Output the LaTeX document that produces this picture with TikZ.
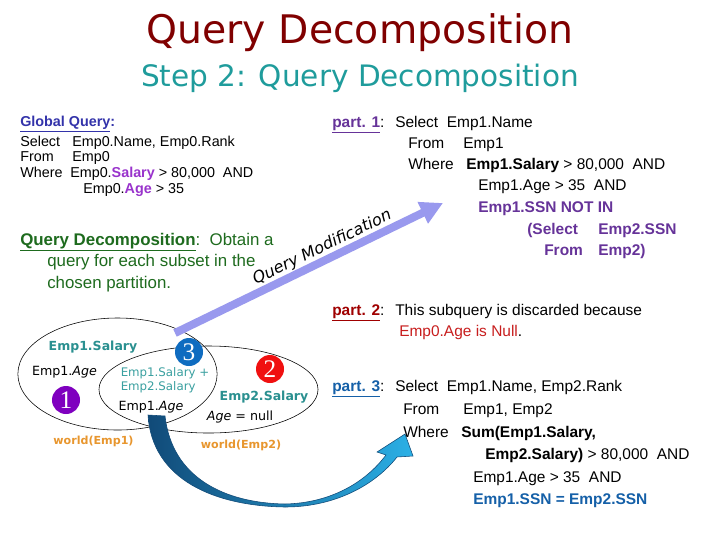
\documentclass[tikz,border=0pt]{standalone}
\usepackage{fontspec}
\setmainfont{Liberation Sans}
\newfontfamily\comic{DejaVu Sans}
\newfontfamily\numfont{Liberation Serif}
\usetikzlibrary{positioning,arrows.meta,shapes.geometric}

\definecolor{titlered}{HTML}{800000}
\definecolor{stepteal}{HTML}{1F9C9C}
\definecolor{gqblue}{HTML}{3333AA}
\definecolor{salpurple}{HTML}{9933CC}
\definecolor{p1purple}{HTML}{663399}
\definecolor{qdgreen}{HTML}{1E6B1E}
\definecolor{p2red}{HTML}{A00000}
\definecolor{nullred}{HTML}{C81E1E}
\definecolor{p3blue}{HTML}{1560A8}
\definecolor{ellteal}{HTML}{2A9090}
\definecolor{lightteal}{HTML}{3AA0A0}
\definecolor{worldorange}{HTML}{E8962E}
\definecolor{c1purple}{HTML}{7F00BF}
\definecolor{c2red}{HTML}{F01010}
\definecolor{c3blue}{HTML}{0F6CC0}
\definecolor{modlav}{HTML}{9999EE}
\definecolor{bowdark}{HTML}{114A78}
\definecolor{bowlight}{HTML}{2BB0E6}

\begin{document}
\begin{tikzpicture}[
    x=0.025cm, y=-0.025cm,
    gq/.style={anchor=base west, inner sep=0pt, font=\fontsize{10.2}{12}\selectfont},
    sql/.style={anchor=base west, inner sep=0pt, font=\fontsize{11}{13}\selectfont},
    note/.style={anchor=base west, inner sep=0pt, text=qdgreen, font=\fontsize{12}{14}\selectfont},
    world/.style={draw, ellipse, thin, inner sep=0pt},
    num/.style={circle, inner sep=0pt, minimum size=0.7cm, text=white,
                font=\numfont\fontsize{18}{18}\selectfont},
    vlab/.style={inner sep=0pt, font=\comic\fontsize{9}{10}\selectfont},
    wlab/.style={inner sep=0pt, text=worldorange, font=\comic\bfseries\fontsize{7.9}{9}\selectfont},
    modarrow/.style={-{Triangle[length=16pt, width=16pt]}, line width=5.7pt, color=modlav},
  ]
  \useasboundingbox (0,0) rectangle (720,540);
  \fill[white] (0,0) rectangle (720,540);

  % --- Title ---
  \node[text=titlered, font=\comic\fontsize{28}{30}\selectfont] (title) at (360,33) {Query Decomposition};
  \node[text=stepteal, font=\comic\fontsize{21}{24}\selectfont] (step) at (360,78) {Step 2: Query Decomposition};

  % --- Global query (left) ---
  \node[gq, text=gqblue, font=\bfseries\fontsize{10.2}{12}\selectfont] (gq0) at (20,126) {\underline{Global Query}:};
  \node[gq] (gq1)  at (20,146) {Select};
  \node[gq] (gq1b) at (72,146) {Emp0.Name, Emp0.Rank};
  \node[gq] (gq2)  at (20,161) {From};
  \node[gq] (gq2b) at (72,161) {Emp0};
  \node[gq] (gq3)  at (20,177) {Where};
  \node[gq] (gq3b) at (70,177) {Emp0.\textbf{\color{salpurple}Salary} > 80,000\ \ AND};
  \node[gq] (gq4)  at (83,193) {Emp0.\textbf{\color{salpurple}Age} > 35};

  % --- Decomposition note (green) ---
  \node[note] (qd1) at (20,245) {\textbf{\underline{Query Decomposition}}:\ \ Obtain a};
  \node[note] (qd2) at (47,266) {query for each subset in the};
  \node[note] (qd3) at (47,288) {chosen partition.};

  % --- part 1 ---
  \node[sql] (p1)   at (332,127) {\textcolor{p1purple}{\textbf{\underline{part. 1}}}:};
  \node[sql] (p1a)  at (395,127) {Select\ \ Emp1.Name};
  \node[sql] (p1b)  at (408,148) {From};
  \node[sql] (p1bb) at (463,148) {Emp1};
  \node[sql] (p1c)  at (408,169) {Where};
  \node[sql] (p1cc) at (466,169) {\textbf{Emp1.Salary} > 80,000\ \ AND};
  \node[sql] (p1d)  at (478,190) {Emp1.Age > 35\ \ AND};
  \node[sql, text=p1purple, font=\bfseries\fontsize{11}{13}\selectfont] (p1e)  at (478,212) {Emp1.SSN NOT IN};
  \node[sql, text=p1purple, font=\bfseries\fontsize{11}{13}\selectfont] (p1f)  at (527,234) {(Select};
  \node[sql, text=p1purple, font=\bfseries\fontsize{11}{13}\selectfont] (p1ff) at (598,234) {Emp2.SSN};
  \node[sql, text=p1purple, font=\bfseries\fontsize{11}{13}\selectfont] (p1g)  at (544,255) {From};
  \node[sql, text=p1purple, font=\bfseries\fontsize{11}{13}\selectfont] (p1gg) at (598,255) {Emp2)};

  % --- part 2 ---
  \node[sql] (p2)  at (332,315) {\textcolor{p2red}{\textbf{\underline{part. 2}}}:};
  \node[sql] (p2a) at (395,315) {This subquery is discarded because};
  \node[sql] (p2b) at (399,336) {\textcolor{nullred}{Emp0.Age is Null}.};

  % --- part 3 ---
  \node[sql] (p3)   at (332,391) {\textcolor{p3blue}{\textbf{\underline{part. 3}}}:};
  \node[sql] (p3a)  at (395,391) {Select\ \ Emp1.Name, Emp2.Rank};
  \node[sql] (p3b)  at (403,414) {From};
  \node[sql] (p3bb) at (463,414) {Emp1, Emp2};
  \node[sql] (p3c)  at (403,437) {Where};
  \node[sql] (p3cc) at (461,437) {\textbf{Sum(Emp1.Salary,}};
  \node[sql] (p3d)  at (485,459) {\textbf{Emp2.Salary)} > 80,000\ \ AND};
  \node[sql] (p3e)  at (473,482) {Emp1.Age > 35\ \ AND};
  \node[sql, text=p3blue, font=\bfseries\fontsize{11}{13}\selectfont] (p3f) at (473,504) {Emp1.SSN = Emp2.SSN};

  % --- the two worlds ---
  \node[world, minimum width=4.98cm, minimum height=2.8cm]   (w1) at (117.5,374) {};
  \node[world, minimum width=5.475cm, minimum height=2.175cm] (w2) at (208.5,389.5) {};

  \node[num, fill=c1purple] (n1) at (66,400) {1};
  \node[num, fill=c3blue]   (n3) at (189,352) {3};
  \node[num, fill=c2red]    (n2) at (270,369) {2};

  \node[vlab, text=ellteal, font=\comic\bfseries\fontsize{8.9}{10}\selectfont] (s1) at (93,347) {Emp1.Salary};
  \node[vlab] (a1) at (64.5,372) {Emp1.\textit{Age}};
  \node[vlab, text=lightteal, font=\comic\fontsize{8.4}{10}\selectfont, align=left] (s12) at (165,380.5) {Emp1.Salary +\\Emp2.Salary};
  \node[vlab] (a12) at (151,407) {Emp1.\textit{Age}};
  \node[vlab, text=ellteal, font=\comic\bfseries\fontsize{8.9}{10}\selectfont] (s2) at (264,397) {Emp2.Salary};
  \node[vlab] (a2) at (240,417) {\textit{Age} = null};

  \node[wlab] (wl1) at (93.5,441) {world(Emp1)};
  \node[wlab] (wl2) at (241,445) {world(Emp2)};

  % --- query modification arrow ---
  \coordinate (modstart) at (175,333);
  \coordinate (modend)   at (443,203);
  \draw[modarrow] (modstart) -- node[sloped, above=0.5pt, pos=0.57, inner sep=0pt, text=black,
        font=\comic\itshape\fontsize{11.4}{12}\selectfont] (modlab) {Query Modification} (modend);

  % --- curved block arrow from the overlap to part 3 ---
  \draw[draw=bowdark, thin, left color=bowdark, right color=bowlight]
    (148,415) .. controls (152,480) and (215,506) .. (285,507)
              .. controls (335,507) and (375,485) .. (397,457)
    -- (413,456) -- (405,434) -- (377,452) -- (386,455)
              .. controls (365,483) and (330,503) .. (285,504)
              .. controls (225,503) and (172,478) .. (165,416) -- cycle;
\end{tikzpicture}
\end{document}
